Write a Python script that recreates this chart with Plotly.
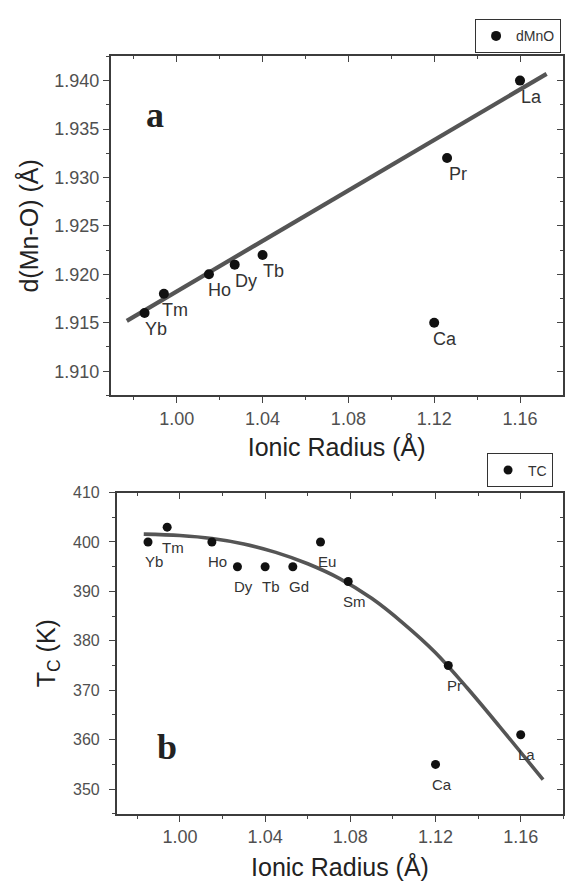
import plotly.graph_objects as go

# ---- panel a: Mn-O bond length vs ionic radius ----
ions_a = ["Yb", "Tm", "Ho", "Dy", "Tb", "Pr", "La", "Ca"]
radius_a = [0.985, 0.994, 1.015, 1.027, 1.040, 1.126, 1.160, 1.120]
dmno = [1.916, 1.918, 1.920, 1.921, 1.922, 1.932, 1.940, 1.915]
fit_a_x = [0.9767, 1.1724]
fit_a_y = [1.9152, 1.9407]

# ---- panel b: Curie temperature vs ionic radius ----
ions_b = ["Yb", "Tm", "Ho", "Dy", "Tb", "Gd", "Eu", "Sm", "Pr", "La", "Ca"]
radius_b = [0.985, 0.994, 1.015, 1.027, 1.040, 1.053, 1.066, 1.079, 1.126, 1.160, 1.120]
tc = [400, 403, 400, 395, 395, 395, 400, 392, 375, 361, 355]
fit_b_x = [0.983, 1.000, 1.015, 1.030, 1.045, 1.060, 1.075, 1.090, 1.105, 1.120, 1.135, 1.150, 1.1705]
fit_b_y = [401.6, 401.3, 400.7, 399.6, 397.9, 395.6, 392.6, 388.6, 383.5, 377.6, 370.4, 362.7, 351.9]

SANS = "Liberation Sans, Arial, sans-serif"
SERIF = "Liberation Serif, Times New Roman, serif"
LINE_C = "#3c3c3c"
TICK_C = "#444444"
LABEL_C = "#505050"

xa_range = [0.9692, 1.1799]
ya_range = [1.9075, 1.9425]
xb_range = [0.9703, 1.1800]
yb_range = [345.0, 410.0]

dom_xa = [110.7 / 571, 562.7 / 571]
dom_ya = [1 - 392.3 / 881, 1 - 49 / 881]
dom_xb = [116.7 / 571, 563.3 / 571]
dom_yb = [1 - 816 / 881, 1 - 490.7 / 881]

fig = go.Figure()

fig.add_trace(go.Scatter(
    x=fit_a_x, y=fit_a_y, mode="lines", line=dict(color="#555555", width=4.2),
    showlegend=False, hoverinfo="skip", xaxis="x", yaxis="y"))
fig.add_trace(go.Scatter(
    x=radius_a, y=dmno, mode="markers", name="dMnO",
    marker=dict(size=10, color="#111111"), legend="legend", xaxis="x", yaxis="y"))

fig.add_trace(go.Scatter(
    x=fit_b_x, y=fit_b_y, mode="lines", line=dict(color="#555555", width=3.6, shape="spline"),
    showlegend=False, hoverinfo="skip", xaxis="x2", yaxis="y2"))
fig.add_trace(go.Scatter(
    x=radius_b, y=tc, mode="markers", name="TC",
    marker=dict(size=9, color="#111111"), legend="legend2", xaxis="x2", yaxis="y2"))

# empty traces so the top/right tick axes get drawn
fig.add_trace(go.Scatter(x=[], y=[], xaxis="x3", yaxis="y3", showlegend=False, hoverinfo="skip"))
fig.add_trace(go.Scatter(x=[], y=[], xaxis="x4", yaxis="y4", showlegend=False, hoverinfo="skip"))


def main_axis(rng, dom, anchor, dtick, tick0, mdtick, fmt, font_size, **kw):
    d = dict(
        range=rng, domain=dom, anchor=anchor, showgrid=False, zeroline=False,
        showline=True, linecolor=LINE_C, linewidth=1.6, mirror=True,
        ticks="outside", ticklen=6, tickwidth=1.2, tickcolor=TICK_C,
        dtick=dtick, tick0=tick0, tickformat=fmt,
        tickfont=dict(family=SANS, size=font_size, color=LABEL_C),
        minor=dict(ticks="outside", ticklen=3, tickwidth=1.2, tickcolor=TICK_C,
                   dtick=mdtick, tick0=tick0, showgrid=False),
    )
    d.update(kw)
    return d


def mirror_axis(rng, over, side, anchor, dtick, tick0, mdtick):
    return dict(
        range=rng, overlaying=over, side=side, anchor=anchor, showgrid=False,
        zeroline=False, showline=False, showticklabels=False,
        ticks="inside", ticklen=6, tickwidth=1.2, tickcolor=TICK_C,
        dtick=dtick, tick0=tick0,
        minor=dict(ticks="inside", ticklen=3, tickwidth=1.2, tickcolor=TICK_C,
                   dtick=mdtick, tick0=tick0, showgrid=False),
    )


title_font = dict(family=SANS, size=25, color="#222222")
legend_font = dict(family=SANS, size=14, color="#333333")

fig.update_layout(
    width=571, height=881, margin=dict(l=0, r=0, t=0, b=0),
    paper_bgcolor="white", plot_bgcolor="white",
    xaxis=main_axis(xa_range, dom_xa, "y", 0.04, 1.0, 0.02, ".2f", 18,
                    title=dict(text="Ionic Radius (Å)", font=title_font, standoff=11)),
    yaxis=main_axis(ya_range, dom_ya, "x", 0.005, 1.91, 0.0025, ".3f", 18,
                    title=dict(text="d(Mn-O) (Å)", font=title_font, standoff=8)),
    xaxis2=main_axis(xb_range, dom_xb, "y2", 0.04, 1.0, 0.02, ".2f", 18,
                     title=dict(text="Ionic Radius (Å)", font=title_font, standoff=16)),
    yaxis2=main_axis(yb_range, dom_yb, "x2", 10, 350, 5, "d", 16,
                     ticklabelstandoff=6,
                     title=dict(text="T<sub>C</sub> (K)", font=title_font, standoff=10)),
    xaxis3=mirror_axis(xa_range, "x", "top", "y", 0.04, 1.0, 0.02),
    yaxis3=mirror_axis(ya_range, "y", "right", "x", 0.005, 1.91, 0.0025),
    xaxis4=mirror_axis(xb_range, "x2", "top", "y2", 0.04, 1.0, 0.02),
    yaxis4=mirror_axis(yb_range, "y2", "right", "x2", 10, 350, 5),
    legend=dict(x=0.832, y=0.987, xanchor="left", yanchor="top",
                bgcolor="white", bordercolor="#333333", borderwidth=1,
                font=legend_font, itemwidth=30),
    legend2=dict(x=0.853, y=0.488, xanchor="left", yanchor="top",
                 bgcolor="white", bordercolor="#333333", borderwidth=1,
                 font=legend_font, itemwidth=30),
)

annotations = []
for name, xv, yv in zip(ions_a, radius_a, dmno):
    annotations.append(dict(x=xv, y=yv, xref="x", yref="y", text=name, showarrow=False,
                            xshift=11, yshift=-16,
                            font=dict(family=SANS, size=18, color="#333333")))
for name, xv, yv in zip(ions_b, radius_b, tc):
    annotations.append(dict(x=xv, y=yv, xref="x2", yref="y2", text=name, showarrow=False,
                            xshift=6, yshift=-20,
                            font=dict(family=SANS, size=15, color="#333333")))
annotations.append(dict(x=0.0737, y=0.892, xref="x domain", yref="y domain", text="<b>a</b>",
                        showarrow=False, font=dict(family=SERIF, size=36, color="#222222")))
annotations.append(dict(x=0.0858, y=0.14, xref="x2 domain", yref="y2 domain", text="<b>b</b>",
                        showarrow=False, font=dict(family=SERIF, size=36, color="#222222")))
fig.update_layout(annotations=annotations)

fig.write_html("out.html")
